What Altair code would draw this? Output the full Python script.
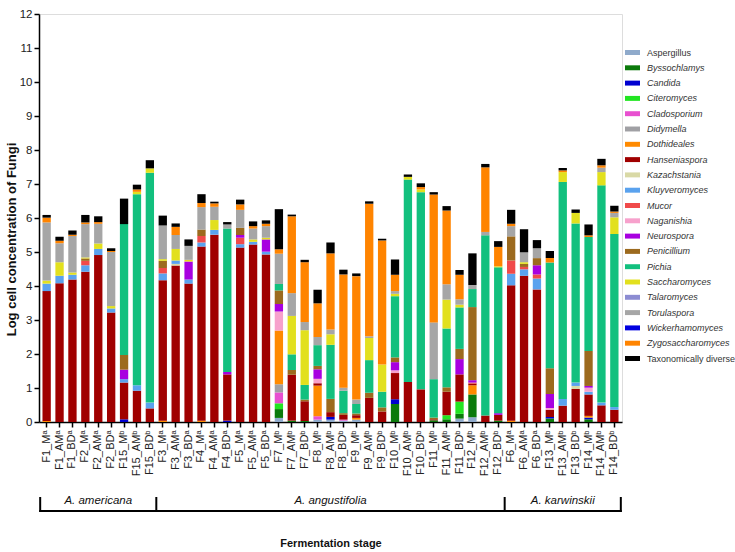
import altair as alt
import pandas as pd

stages = ["F1_Mᵃ", "F1_AMᵃ", "F1_BDᵃ", "F2_Mᵃ", "F2_AMᵃ", "F2_BDᵃ", "F15_Mᵇ", "F15_AMᵇ", "F15_BDᵇ",
          "F3_Mᵃ", "F3_AMᵃ", "F3_BDᵃ", "F4_Mᵃ", "F4_AMᵃ", "F4_BDᵃ", "F5_Mᵃ", "F5_AMᵃ", "F5_BDᵃ",
          "F7_Mᵇ", "F7_AMᵇ", "F7_BDᵇ", "F8_Mᵇ", "F8_AMᵇ", "F8_BDᵇ", "F9_Mᵇ", "F9_AMᵇ", "F9_BDᵇ",
          "F10_Mᵇ", "F10_AMᵇ", "F10_BDᵇ", "F11_Mᵇ", "F11_AMᵇ", "F11_BDᵇ", "F12_Mᵇ", "F12_AMᵇ", "F12_BDᵇ",
          "F6_Mᵃ", "F6_AMᵃ", "F6_BDᵃ", "F13_Mᵇ", "F13_AMᵇ", "F13_BDᵇ", "F14_Mᵇ", "F14_AMᵇ", "F14_BDᵇ"]

species = ["Aspergillus", "Byssochlamys", "Candida", "Citeromyces", "Cladosporium", "Didymella",
           "Dothideales", "Hanseniaspora", "Kazachstania", "Kluyveromyces", "Mucor", "Naganishia",
           "Neurospora", "Penicillium", "Pichia", "Saccharomyces", "Talaromyces", "Torulaspora",
           "Wickerhamomyces", "Zygosaccharomyces", "Taxonomically diverse"]

colors = ["#8FAACB", "#0B7A0B", "#0000D0", "#22E522", "#E850D0", "#A0A0A4",
          "#FF8A00", "#A00000", "#D9D9A6", "#5AA2EE", "#F04A4A", "#F7A1CC",
          "#A800E0", "#9C6A1E", "#12C07E", "#E2E01E", "#8C8CD2", "#A6A6A6",
          "#0000E0", "#FF8400", "#000000"]

# values per genus, 45 bars each (americana 9 | angustifolia 27 | karwinskii 9)
aspergillus = [0, 0, 0, 0, 0, 0, 0, 0, 0,
               0, 0, 0, 0, 0, 0, 0, 0, 0,
               0.12, 0, 0, 0.07, 0.07, 0.04, 0.07, 0, 0,
               0, 0, 0, 0, 0, 0.10, 0.14, 0, 0,
               0, 0, 0, 0, 0, 0, 0, 0, 0]
byssochlamys = [0, 0, 0, 0, 0, 0, 0, 0, 0,
                0, 0, 0, 0, 0, 0, 0, 0, 0,
                0.26, 0.04, 0.03, 0, 0, 0, 0, 0, 0,
                0.53, 0, 0, 0.05, 0.08, 0.14, 0.67, 0, 0.04,
                0, 0, 0, 0.10, 0, 0, 0.08, 0, 0]
candida = [0, 0, 0, 0, 0, 0, 0.08, 0, 0,
           0, 0, 0, 0, 0, 0.04, 0, 0, 0,
           0, 0, 0, 0, 0.08, 0, 0, 0, 0,
           0.14, 0, 0, 0, 0, 0, 0, 0, 0,
           0, 0, 0, 0.05, 0, 0, 0.05, 0, 0]
citeromyces = [0, 0, 0, 0, 0, 0, 0, 0, 0,
               0, 0, 0, 0, 0, 0, 0, 0, 0,
               0.17, 0, 0, 0, 0, 0, 0, 0, 0,
               0, 0, 0, 0, 0.12, 0.36, 0, 0, 0,
               0, 0, 0, 0, 0, 0, 0, 0, 0]
cladosporium = [0, 0, 0, 0, 0, 0, 0, 0, 0,
                0, 0, 0, 0, 0, 0, 0, 0, 0,
                0.32, 0, 0, 0.10, 0, 0.03, 0, 0, 0,
                0, 0, 0, 0, 0, 0, 0, 0, 0,
                0, 0, 0, 0, 0, 0, 0, 0, 0]
didymella = [0, 0, 0, 0, 0, 0, 0, 0, 0,
             0, 0, 0, 0, 0, 0, 0, 0, 0,
             0.24, 0, 0, 0, 0, 0, 0, 0, 0,
             0, 0, 0, 0, 0, 0, 0, 0, 0,
             0, 0, 0, 0, 0, 0, 0, 0, 0]
dothideales = [0.03, 0, 0, 0, 0, 0, 0, 0, 0,
               0.04, 0, 0, 0.04, 0, 0, 0, 0, 0,
               1.58, 0, 0, 0.90, 0, 0, 0.05, 0, 0,
               0, 0, 0, 0, 0, 0, 0.27, 0, 0,
               0.04, 0, 0, 0, 0, 0, 0.05, 0, 0]
hanseniaspora = [3.82, 4.08, 4.19, 4.42, 4.91, 3.22, 1.08, 0.92, 0.40,
                 4.13, 4.60, 4.07, 5.12, 5.51, 1.36, 5.13, 5.22, 4.93,
                 0, 1.35, 0.58, 0.07, 0.14, 0.14, 0.08, 0.71, 0.31,
                 0.77, 1.18, 0.96, 0.03, 0.69, 0.80, 0.05, 0.19, 0.17,
                 3.98, 4.30, 3.90, 0.21, 0.48, 0.97, 0.63, 0.49, 0.36]
kazachstania = [0, 0, 0, 0, 0, 0, 0, 0, 0,
                0, 0.05, 0, 0, 0, 0, 0, 0, 0,
                0, 0, 0, 0, 0, 0, 0, 0, 0,
                0, 0, 0, 0, 0, 0, 0, 0, 0,
                0, 0, 0, 0, 0, 0.09, 0, 0, 0]
kluyveromyces = [0.22, 0.22, 0.14, 0.19, 0.18, 0.12, 0.10, 0.16, 0.17,
                 0.20, 0.10, 0.12, 0.12, 0.14, 0, 0.10, 0.08, 0.08,
                 0, 0, 0, 0, 0, 0, 0, 0, 0,
                 0, 0, 0, 0, 0, 0, 0, 0, 0,
                 0.34, 0.19, 0.32, 0, 0.20, 0.10, 0.08, 0.08, 0.08]
mucor = [0, 0, 0, 0.13, 0, 0, 0, 0, 0,
         0.16, 0, 0, 0.19, 0, 0, 0.19, 0, 0,
         0, 0, 0, 0, 0, 0, 0, 0, 0,
         0, 0, 0, 0, 0, 0, 0.03, 0, 0,
         0.39, 0.07, 0.12, 0, 0, 0, 0, 0, 0]
naganishia = [0, 0, 0, 0, 0, 0, 0, 0, 0,
              0, 0, 0, 0, 0, 0, 0, 0, 0,
              0.56, 0, 0, 0.13, 0, 0, 0, 0, 0,
              0.08, 0, 0, 0, 0, 0, 0, 0, 0,
              0, 0, 0, 0.05, 0, 0, 0.12, 0, 0]
neurospora = [0, 0, 0, 0, 0, 0, 0.28, 0, 0,
              0, 0, 0.53, 0, 0, 0.07, 0.08, 0, 0.36,
              0.22, 0, 0, 0.28, 0, 0, 0, 0, 0,
              0.24, 0, 0, 0, 0, 0.45, 0.07, 0, 0.05,
              0, 0, 0.27, 0.41, 0, 0, 0.05, 0, 0]
penicillium = [0, 0, 0, 0.07, 0, 0, 0.43, 0, 0,
               0.21, 0, 0, 0.19, 0, 0, 0.21, 0, 0,
               0.40, 0.14, 0.05, 0.10, 0.39, 0.05, 0.05, 0.15, 0.12,
               0.14, 0, 0, 0.05, 0.13, 0.30, 2.15, 0, 0,
               0.71, 0.09, 0.21, 0.76, 0, 0, 1.03, 0, 0]
pichia = [0, 0, 0, 0, 0, 0, 3.85, 5.62, 6.76,
          0, 0, 0, 0, 0, 4.22, 0, 0, 0,
          0.19, 0.46, 0.43, 0.61, 1.59, 0.66, 0.28, 0.96, 0.46,
          1.80, 5.95, 5.80, 1.13, 1.73, 1.22, 0.53, 5.30, 4.29,
          0, 0, 0, 3.11, 6.38, 4.68, 3.35, 6.39, 5.09]
saccharomyces = [0.09, 0.40, 0.07, 0.03, 0.16, 0.07, 0, 0.07, 0.13,
                 0.05, 0.34, 0.05, 0, 0.29, 0, 0, 0.07, 0.05,
                 0, 1.13, 1.61, 0, 0.31, 0, 0, 0.65, 0.80,
                 0.07, 0.08, 0.08, 0, 0.85, 0.08, 0, 0, 0.03,
                 0, 0.05, 0, 0, 0.29, 0.31, 0, 0.39, 0.49]
talaromyces = [0, 0, 0, 0, 0, 0, 0, 0, 0,
               0, 0, 0, 0, 0, 0, 0, 0, 0,
               0, 0, 0, 0, 0, 0, 0, 0, 0,
               0, 0, 0, 0, 0, 0, 0, 0, 0,
               0, 0, 0, 0, 0, 0, 0, 0, 0]
torulaspora = [1.71, 0.56, 1.07, 0.98, 0.58, 1.59, 0, 0, 0,
               0.99, 0.41, 0.41, 0.66, 0.39, 0.12, 0.53, 0.32, 0.34,
               0.89, 0.67, 0.24, 0.24, 0.14, 0.09, 0.13, 0.05, 0,
               0.08, 0, 0, 1.67, 0.45, 0.16, 0.12, 0.10, 0,
               0.30, 0.29, 0.29, 0, 0, 0, 0, 0.13, 0.13]
wickerhamomyces = [0, 0, 0, 0, 0, 0, 0, 0, 0,
                   0, 0, 0, 0, 0, 0, 0, 0, 0,
                   0, 0, 0, 0, 0, 0, 0, 0, 0,
                   0, 0, 0, 0, 0, 0, 0, 0, 0,
                   0, 0, 0, 0, 0, 0, 0, 0, 0]
zygosaccharomyces = [0.14, 0.07, 0.04, 0.05, 0.05, 0.03, 0, 0.07, 0,
                     0, 0.24, 0, 0.12, 0.10, 0, 0.16, 0.07, 0.07,
                     0.13, 2.26, 1.76, 0.99, 2.24, 3.33, 3.63, 3.90, 3.65,
                     0.48, 0, 0.07, 3.76, 2.17, 0.72, 0, 1.90, 0.57,
                     0.07, 0, 0, 0.13, 0.05, 0, 0.05, 0.07, 0.04]
taxonomically_diverse = [0.08, 0.12, 0.12, 0.22, 0.17, 0.08, 0.75, 0.14, 0.24,
                         0.29, 0.10, 0.19, 0.26, 0.05, 0.07, 0.14, 0.14, 0.10,
                         1.18, 0.05, 0.07, 0.40, 0.32, 0.14, 0.08, 0.07, 0.05,
                         0.45, 0.07, 0.11, 0.07, 0.13, 0.14, 0.93, 0.10, 0.17,
                         0.41, 0.68, 0.24, 0.21, 0.07, 0.10, 0.32, 0.19, 0.17]

series = [aspergillus, byssochlamys, candida, citeromyces, cladosporium, didymella,
          dothideales, hanseniaspora, kazachstania, kluyveromyces, mucor, naganishia,
          neurospora, penicillium, pichia, saccharomyces, talaromyces, torulaspora,
          wickerhamomyces, zygosaccharomyces, taxonomically_diverse]

groups = ["A. americana", "A. angustifolia", "A. karwinskii"]
group_first = ["F1_Mᵃ", "F3_Mᵃ", "F6_Mᵃ"]
group_last = ["F15_BDᵇ", "F12_BDᵇ", "F14_BDᵇ"]
group_mid = ["F2_AMᵃ", "F8_AMᵇ", "F13_AMᵇ"]

y_ticks = list(range(0, 13))

rows = []
for k, (sp, vals) in enumerate(zip(species, series)):
    for st, v in zip(stages, vals):
        if v > 0:
            rows.append({"stage": st, "genus": sp, "value": v, "order": k})
bars_df = pd.DataFrame(rows)
grp_df = pd.DataFrame({"group": groups, "stage": group_first, "stage_end": group_last, "mid": group_mid})

FONT = "Liberation Sans"
W, H = 583, 408

xscale = alt.Scale(domain=stages, paddingInner=0.355, paddingOuter=0.27)
xaxis = alt.Axis(labelAngle=-90, labelFontSize=11, labelColor="#222222", labelPadding=3,
                 tickSize=5, tickWidth=1.5, tickColor="black", domainColor="black",
                 domainWidth=1.5, title="Fermentation stage", titleFontSize=11,
                 titleFontWeight="bold", titleColor="#111111", titleY=121,
                 titleBaseline="middle", labelLimit=200)


def xenc(field="stage", **kw):
    return alt.X(f"{field}:N", scale=xscale, sort=stages, axis=xaxis, **kw)


bars = alt.Chart(bars_df).mark_bar().encode(
    x=xenc(),
    y=alt.Y("sum(value):Q", stack="zero",
            scale=alt.Scale(domain=[0, 12], nice=False),
            axis=alt.Axis(values=y_ticks, tickSize=5, tickWidth=1.5, tickColor="black",
                          domainColor="black", domainWidth=1.5, labelFontSize=11.5,
                          labelColor="#222222", labelPadding=2, grid=False,
                          title="Log cell concentration of Fungi", titleFontSize=13,
                          titleFontWeight="bold", titleColor="#111111",
                          titleX=-21, titleY=225)),
    color=alt.Color("genus:N", scale=alt.Scale(domain=species, range=colors),
                    legend=alt.Legend(orient="none", legendX=586, legendY=31, title=None,
                                      symbolType="M-1,-0.33H1V0.33H-1Z", symbolSize=225,
                                      symbolStrokeWidth=0, labelFontSize=9, labelFont=FONT,
                                      labelColor="#333333", labelOffset=7, rowPadding=2.3,
                                      padding=0, labelLimit=200,
                                      labelFontStyle={"expr": "datum.label == 'Aspergillus' || datum.label == 'Taxonomically diverse' ? 'normal' : 'italic'"})),
    order=alt.Order("order:Q", sort="ascending"),
)

rule_style = dict(color="black", strokeWidth=2, strokeCap="square")
hline = alt.Chart(grp_df).mark_rule(xOffset=-2.3, x2Offset=2.3, **rule_style).encode(
    x=xenc(bandPosition=0),
    x2=alt.X2("stage_end", bandPosition=1),
    y=alt.value(497),
)
vtick_left = alt.Chart(grp_df).mark_rule(xOffset=-2.3, **rule_style).encode(
    x=xenc(bandPosition=0),
    y=alt.value(484),
    y2=alt.value(497),
)
vtick_right = alt.Chart(grp_df.iloc[[2]]).mark_rule(xOffset=2.3, **rule_style).encode(
    x=xenc("stage_end", bandPosition=1),
    y=alt.value(484),
    y2=alt.value(497),
)
glabels = alt.Chart(grp_df).mark_text(fontStyle="italic", fontSize=11.5, font=FONT,
                                      color="#111111", baseline="middle").encode(
    x=xenc("mid"),
    y=alt.value(487),
    text="group:N",
)

chart = alt.layer(bars, hline, vtick_left, vtick_right, glabels).properties(
    width=W, height=H,
    autosize=alt.AutoSizeParams(type="none"),
    padding={"left": 39, "top": 14, "right": 735 - 39 - W, "bottom": 552 - 14 - H},
    background="white",
).configure_view(stroke=None).configure(font=FONT)

chart.save("out.html", embed_options={"renderer": "svg", "actions": False})
